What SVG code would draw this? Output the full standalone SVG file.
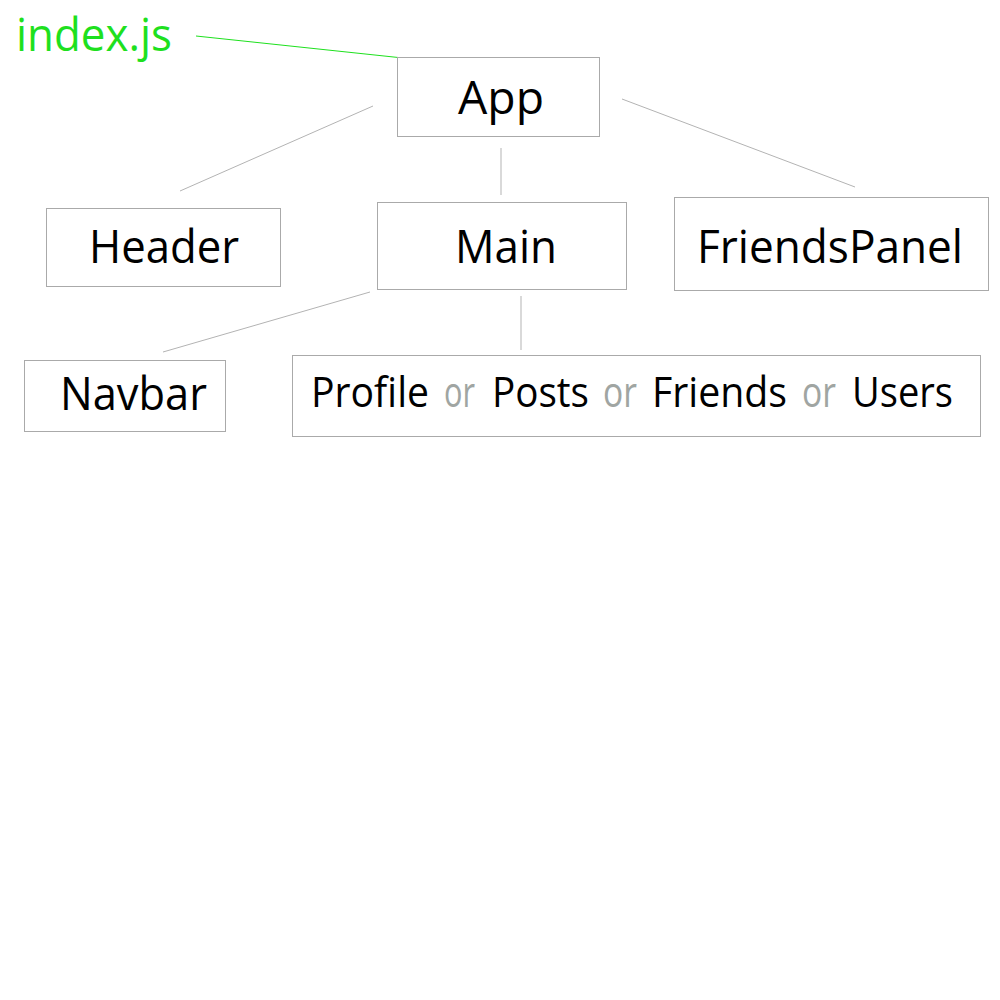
<svg xmlns="http://www.w3.org/2000/svg" width="1000" height="1000" viewBox="0 0 1000 1000">
<style>
.box{fill:#fff;stroke:#aaa;stroke-width:1}
.lbl{font-family:"Open Sans","Noto Sans",sans-serif;font-size:46px;fill:#000}
.pg{font-size:42px}
.or{fill:#a0a5a2}
.edge{stroke:#b3b3b3;stroke-width:1;fill:none}
</style>
<rect width="1000" height="1000" fill="#fff"/>
<g id="connectors">
<line x1="196" y1="36" x2="403" y2="58" stroke="#1ee01e" stroke-width="1"/>
<line class="edge" x1="373" y1="106" x2="180" y2="191"/>
<line class="edge" x1="501" y1="148" x2="501" y2="195"/>
<line class="edge" x1="622" y1="99" x2="855" y2="187"/>
<line class="edge" x1="370" y1="292" x2="163" y2="352"/>
<line class="edge" x1="521" y1="296" x2="521" y2="350"/>
</g>
<g id="index">
<text class="lbl" x="16" y="51" style="fill:#1ee01e" textLength="156" lengthAdjust="spacingAndGlyphs">index.js</text>
</g>
<g id="app">
<rect class="box" x="397.5" y="57.5" width="202" height="79"/>
<text class="lbl" x="458" y="114" textLength="86" lengthAdjust="spacingAndGlyphs">App</text>
</g>
<g id="header">
<rect class="box" x="46.5" y="208.5" width="234" height="78"/>
<text class="lbl" x="89" y="263" textLength="150" lengthAdjust="spacingAndGlyphs">Header</text>
</g>
<g id="main">
<rect class="box" x="377.5" y="202.5" width="249" height="87"/>
<text class="lbl" x="455" y="263" textLength="102" lengthAdjust="spacingAndGlyphs">Main</text>
</g>
<g id="friendspanel">
<rect class="box" x="674.5" y="197.5" width="314" height="93"/>
<text class="lbl" x="697" y="263" textLength="266" lengthAdjust="spacingAndGlyphs">FriendsPanel</text>
</g>
<g id="navbar">
<rect class="box" x="24.5" y="360.5" width="201" height="71"/>
<text class="lbl" x="60" y="410" textLength="147" lengthAdjust="spacingAndGlyphs">Navbar</text>
</g>
<g id="pages">
<rect class="box" x="292.5" y="355.5" width="688" height="81"/>
<text class="lbl pg" x="311" y="407" textLength="118" lengthAdjust="spacingAndGlyphs">Profile</text>
<text class="lbl pg or" x="444" y="407" textLength="31" lengthAdjust="spacingAndGlyphs">or</text>
<text class="lbl pg" x="492" y="407" textLength="97" lengthAdjust="spacingAndGlyphs">Posts</text>
<text class="lbl pg or" x="603" y="407" textLength="34" lengthAdjust="spacingAndGlyphs">or</text>
<text class="lbl pg" x="652" y="407" textLength="135" lengthAdjust="spacingAndGlyphs">Friends</text>
<text class="lbl pg or" x="802" y="407" textLength="34" lengthAdjust="spacingAndGlyphs">or</text>
<text class="lbl pg" x="852" y="407" textLength="101" lengthAdjust="spacingAndGlyphs">Users</text>
</g>
</svg>
